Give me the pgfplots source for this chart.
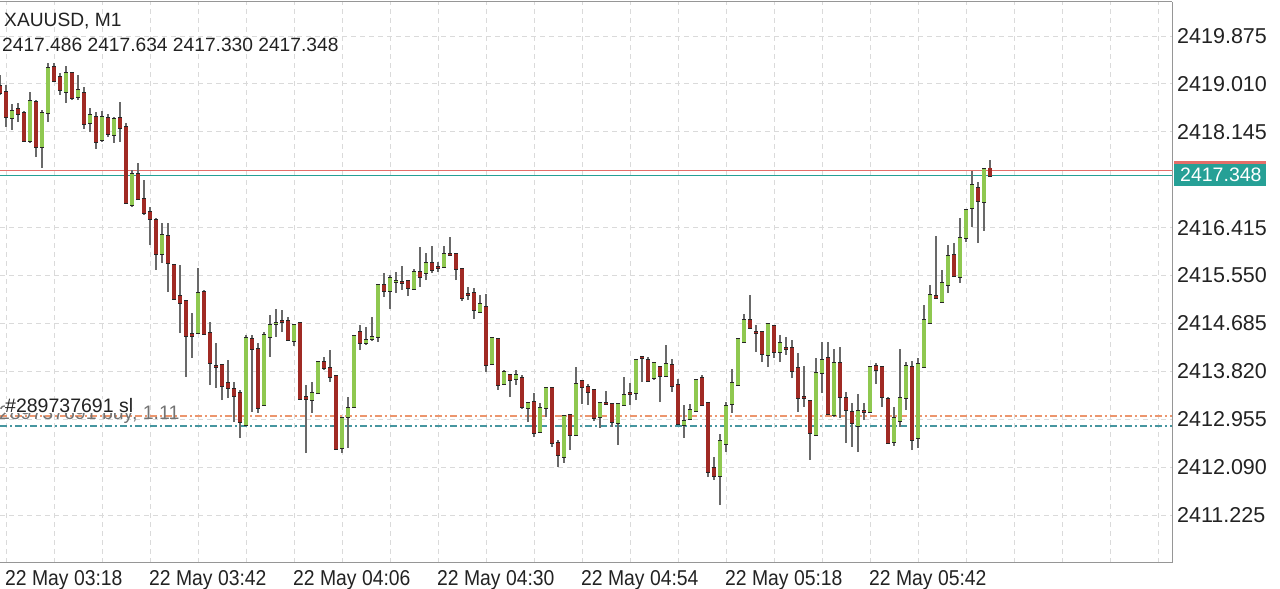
\documentclass[border=0pt]{standalone}
\usepackage{fontspec}
\setmainfont{Liberation Sans}
\newfontfamily\narrow[FakeStretch=0.9]{Liberation Sans}
\usepackage{pgfplots}
\usepackage{pgfplotstable}
\pgfplotsset{compat=1.18}

\definecolor{redc}{RGB}{160,42,36}
\definecolor{greenc}{RGB}{143,200,80}
\definecolor{wickc}{RGB}{105,105,105}
\definecolor{gridc}{RGB}{218,218,218}
\definecolor{axisc}{RGB}{150,150,150}
\definecolor{labc}{RGB}{34,34,34}
\definecolor{tealc}{RGB}{38,160,150}
\definecolor{askc}{RGB}{228,110,105}
\definecolor{slc}{RGB}{236,150,110}
\definecolor{buyc}{RGB}{70,150,160}

% XAUUSD M1, x = minutes after 22 May 03:18
\pgfplotstableread{
x o h l c
-1 2418.972 2419.171 2418.810 2418.846
0 2418.864 2418.990 2418.232 2418.412
2 2418.557 2418.665 2418.322 2418.466
3 2418.485 2418.521 2417.961 2417.979
5 2418.683 2418.719 2417.690 2417.871
8 2419.315 2419.387 2419.044 2419.062
9 2419.135 2419.207 2418.810 2418.900
11 2419.207 2419.225 2418.719 2418.755
13 2418.846 2418.954 2418.196 2418.286
15 2418.412 2418.503 2417.835 2417.961
17 2418.394 2418.466 2418.051 2418.105
19 2418.394 2418.683 2417.961 2418.214
20 2418.232 2418.304 2416.841 2416.859
22 2417.383 2417.582 2416.914 2416.932
23 2416.932 2417.275 2416.643 2416.679
24 2416.697 2416.787 2416.101 2416.571
25 2416.552 2416.589 2415.650 2415.938
27 2416.264 2416.498 2415.252 2415.776
28 2415.740 2415.758 2415.108 2415.126
29 2415.180 2415.740 2414.512 2415.054
30 2415.090 2415.108 2413.718 2414.458
31 2414.494 2414.873 2414.061 2414.458
33 2415.252 2415.289 2414.476 2414.494
34 2414.512 2414.711 2413.573 2413.970
35 2413.916 2414.331 2413.519 2413.898
36 2413.934 2413.952 2413.302 2413.555
37 2413.609 2414.025 2413.338 2413.519
38 2413.501 2413.627 2412.905 2413.374
39 2413.429 2413.483 2412.616 2412.905
41 2414.404 2414.476 2413.086 2414.223
42 2414.223 2414.331 2413.068 2413.158
46 2414.729 2414.927 2414.530 2414.711
47 2414.729 2414.801 2414.368 2414.386
49 2414.693 2414.711 2413.302 2413.320
50 2413.356 2413.573 2412.345 2413.320
53 2413.988 2414.079 2413.844 2413.880
54 2413.880 2414.205 2413.627 2413.718
55 2413.736 2413.754 2412.399 2412.417
59 2414.530 2414.657 2414.205 2414.331
63 2415.379 2415.595 2415.162 2415.270
66 2415.433 2415.722 2415.289 2415.415
67 2415.451 2415.469 2415.180 2415.325
69 2415.614 2416.065 2415.343 2415.523
71 2415.776 2416.083 2415.595 2415.650
72 2415.704 2415.794 2415.614 2415.686
74 2415.938 2416.245 2415.902 2415.920
75 2415.938 2415.957 2415.469 2415.668
76 2415.668 2415.686 2415.090 2415.144
77 2415.216 2415.343 2415.108 2415.198
78 2415.234 2415.325 2414.765 2414.927
80 2414.982 2415.216 2413.808 2413.934
82 2414.404 2414.422 2413.483 2413.573
84 2413.754 2413.772 2413.356 2413.663
86 2413.699 2413.754 2413.140 2413.176
88 2413.266 2413.429 2412.634 2412.706
91 2413.519 2413.537 2412.454 2412.526
92 2412.526 2412.580 2412.092 2412.309
94 2413.031 2413.049 2412.399 2412.670
96 2413.645 2413.663 2413.230 2413.537
97 2413.537 2413.591 2413.212 2413.447
98 2413.483 2413.501 2412.923 2412.977
100 2413.248 2413.465 2413.212 2413.230
101 2413.230 2413.248 2412.815 2412.905
104 2413.429 2413.609 2413.212 2413.411
106 2414.079 2414.097 2413.627 2414.061
107 2414.025 2414.079 2413.627 2413.645
109 2413.898 2413.916 2413.266 2413.736
111 2413.934 2414.043 2413.447 2413.555
112 2413.573 2413.681 2412.851 2412.869
116 2413.699 2413.754 2413.194 2413.212
117 2413.248 2413.266 2411.912 2412.002
118 2412.074 2412.273 2411.858 2411.930
124 2414.747 2415.198 2414.584 2414.602
125 2414.530 2414.657 2414.169 2414.512
126 2414.530 2414.548 2413.988 2414.133
128 2414.638 2414.657 2414.061 2414.169
130 2414.241 2414.440 2414.115 2414.223
131 2414.241 2414.386 2413.699 2413.826
132 2413.880 2414.151 2413.086 2413.338
133 2413.356 2413.916 2413.176 2413.338
134 2413.284 2413.302 2412.219 2412.706
137 2414.061 2414.349 2413.031 2413.049
139 2413.970 2414.259 2412.977 2413.356
140 2413.338 2413.447 2412.526 2413.122
141 2413.086 2413.248 2412.454 2412.887
143 2413.104 2413.248 2412.941 2413.086
145 2413.916 2413.970 2413.591 2413.844
146 2413.898 2413.916 2413.176 2413.356
147 2413.320 2413.356 2412.508 2412.526
151 2413.898 2414.006 2412.399 2412.580
155 2415.180 2416.264 2415.126 2415.144
158 2415.920 2416.137 2415.523 2415.541
162 2417.130 2417.239 2416.137 2416.896
164 2417.486 2417.634 2417.330 2417.348
}\bear

\pgfplotstableread{
x o h l c
1 2418.394 2418.647 2418.178 2418.521
4 2417.979 2418.864 2417.943 2418.701
6 2417.871 2418.539 2417.491 2418.485
7 2418.485 2419.387 2418.322 2419.297
10 2418.864 2419.333 2418.665 2419.207
12 2418.773 2419.171 2418.719 2418.900
14 2418.304 2418.575 2418.141 2418.448
16 2417.997 2418.521 2417.961 2418.412
18 2418.087 2418.412 2417.943 2418.376
21 2416.823 2417.455 2416.787 2417.383
26 2415.938 2416.498 2415.776 2416.282
32 2414.512 2415.686 2414.494 2415.234
40 2412.851 2414.476 2412.833 2414.422
43 2413.212 2414.530 2413.194 2414.476
44 2414.440 2414.837 2414.079 2414.657
45 2414.675 2414.945 2414.440 2414.693
48 2414.368 2414.675 2414.277 2414.657
51 2413.302 2413.627 2413.068 2413.429
52 2413.429 2414.006 2413.411 2413.988
56 2412.436 2412.995 2412.345 2412.977
57 2412.995 2413.356 2412.436 2413.158
58 2413.176 2414.476 2413.158 2414.458
60 2414.331 2414.620 2414.295 2414.386
61 2414.404 2414.801 2414.368 2414.440
62 2414.440 2415.397 2414.349 2415.379
64 2415.270 2415.559 2414.945 2415.505
65 2415.433 2415.614 2415.234 2415.451
68 2415.307 2415.668 2415.289 2415.614
70 2415.595 2415.957 2415.469 2415.776
73 2415.704 2416.083 2415.686 2415.938
79 2414.891 2415.198 2414.873 2415.036
81 2413.952 2414.440 2413.934 2414.422
83 2413.591 2413.844 2413.573 2413.808
85 2413.681 2413.844 2413.573 2413.754
87 2413.158 2413.266 2412.905 2413.248
89 2412.724 2413.248 2412.706 2413.158
90 2413.158 2413.537 2412.995 2413.519
93 2412.273 2413.031 2412.165 2413.013
95 2412.670 2413.898 2412.652 2413.591
99 2412.995 2413.266 2412.797 2413.248
102 2412.887 2413.248 2412.490 2413.230
103 2413.212 2413.718 2413.194 2413.392
105 2413.429 2414.043 2413.302 2414.025
108 2413.699 2413.988 2413.663 2413.970
110 2413.736 2414.295 2413.718 2413.952
113 2412.851 2413.212 2412.616 2412.923
114 2412.959 2413.230 2412.941 2413.122
115 2413.104 2413.681 2413.086 2413.663
119 2411.930 2412.688 2411.406 2412.562
120 2412.508 2413.266 2412.363 2413.194
121 2413.230 2413.862 2413.068 2413.609
122 2413.573 2414.422 2413.555 2414.404
123 2414.349 2414.855 2414.331 2414.747
127 2414.115 2414.693 2413.898 2414.675
129 2414.169 2414.476 2413.988 2414.331
135 2412.670 2414.061 2412.652 2413.790
136 2413.790 2414.349 2413.429 2414.025
138 2413.031 2414.223 2412.995 2413.970
142 2412.833 2413.411 2412.363 2413.104
144 2413.086 2413.916 2413.068 2413.898
148 2412.544 2413.176 2412.472 2412.977
149 2412.923 2414.223 2412.815 2413.338
150 2413.338 2413.988 2413.122 2413.916
152 2412.616 2414.061 2412.436 2413.952
153 2413.898 2415.018 2413.880 2414.747
154 2414.693 2415.379 2414.675 2415.198
156 2415.072 2415.650 2415.054 2415.415
157 2415.379 2416.101 2415.234 2415.902
159 2415.523 2416.589 2415.415 2416.227
160 2416.227 2416.751 2416.155 2416.733
161 2416.769 2417.437 2416.426 2417.184
163 2416.877 2417.491 2416.354 2417.473
}\bull

\begin{document}
\begin{tikzpicture}
\begin{axis}[
  at={(0pt,0pt)}, anchor=south west,
  scale only axis, width=1172pt, height=561pt,
  xmin=-1, xmax=194.333, ymin=2410.359, ymax=2420.489,
  axis x line=box, axis y line*=right,
  axis line style={draw=axisc, line width=1pt, -},
  yticklabel pos=right,
  xtick={0,24,48,72,96,120,144},
  minor xtick={0,8,...,192},
  xticklabels={22 May 03:18,22 May 03:42,22 May 04:06,22 May 04:30,22 May 04:54,22 May 05:18,22 May 05:42},
  ytick={2411.225,2412.090,2412.955,2413.820,2414.685,2415.550,2416.415,2418.145,2419.010,2419.875},
  yticklabels={2411.225,2412.090,2412.955,2413.820,2414.685,2415.550,2416.415,2418.145,2419.010,2419.875},
  major tick length=0pt, minor tick length=0pt,
  grid=both,
  major grid style={draw=gridc, line width=0.9pt, dash pattern=on 5pt off 4pt},
  minor grid style={draw=gridc, line width=0.9pt, dash pattern=on 5pt off 4pt},
  xticklabel style={font=\narrow\fontsize{21.5}{24}\selectfont, text=labc, anchor=north west, inner sep=0pt, yshift=-7pt, xshift=-1pt},
  yticklabel style={font=\fontsize{21.5}{24}\selectfont, text=labc, anchor=west, inner sep=0pt, xshift=5pt},
  candle/.style={draw=none, mark=none, error bars/y dir=plus, error bars/y explicit, error bars/error mark=none},
]
% ask / bid and order levels
\addplot[askc, line width=1.1pt] coordinates {(-1,2417.440) (194.333,2417.440)};
\addplot[tealc, line width=1.1pt] coordinates {(-1,2417.348) (194.333,2417.348)};
\addplot[slc, line width=1.1pt, dash pattern=on 7pt off 3pt on 2pt off 3pt] coordinates {(-1,2413.013) (194.333,2413.013)};
\addplot[buyc, line width=1.1pt, dash pattern=on 7pt off 3pt on 2pt off 3pt] coordinates {(-1,2412.833) (194.333,2412.833)};

% wicks
\addplot[candle, error bars/error bar style={draw=wickc, line width=1.2pt}]
  table[x=x, y=l, y error plus expr=\thisrow{h}-\thisrow{l}] {\bear};
\addplot[candle, error bars/error bar style={draw=wickc, line width=1.2pt}]
  table[x=x, y=l, y error plus expr=\thisrow{h}-\thisrow{l}] {\bull};

% bodies: dark outline then fill
\addplot[candle, error bars/error bar style={draw=black!85, line width=4.6pt, shorten <=-0.7pt, shorten >=-0.7pt}]
  table[x=x, y=c, y error plus expr=\thisrow{o}-\thisrow{c}] {\bear};
\addplot[candle, error bars/error bar style={draw=redc, line width=3.2pt}]
  table[x=x, y=c, y error plus expr=\thisrow{o}-\thisrow{c}] {\bear};
\addplot[candle, error bars/error bar style={draw=black!85, line width=4.6pt, shorten <=-0.7pt, shorten >=-0.7pt}]
  table[x=x, y=o, y error plus expr=\thisrow{c}-\thisrow{o}] {\bull};
\addplot[candle, error bars/error bar style={draw=greenc, line width=3.2pt}]
  table[x=x, y=o, y error plus expr=\thisrow{c}-\thisrow{o}] {\bull};
\end{axis}

% current price tag
\fill[tealc] (1174pt,377pt) rectangle (1266pt,399pt);
\fill[askc] (1174pt,399pt) rectangle (1266pt,402pt);
\node[anchor=west, inner sep=0pt, text=white, font=\fontsize{19.5}{22}\selectfont] at (1180pt,388pt) {2417.348};

% header
\node[anchor=base west, inner sep=0pt, text=labc, font=\fontsize{19.2}{22}\selectfont] at (4pt,536pt) {XAUUSD, M1};
\node[anchor=base west, inner sep=0pt, text=labc, font=\fontsize{19.2}{22}\selectfont] at (2pt,511pt) {2417.486 2417.634 2417.330 2417.348};

% order labels
\node[anchor=base west, inner sep=0pt, text=black!55, font=\fontsize{19.5}{22}\selectfont] at (-12pt,143pt) {\#289737691 buy, 1.11};
\node[anchor=base west, inner sep=0pt, fill=white, text=labc, font=\fontsize{19.5}{22}\selectfont] at (5pt,150pt) {\#289737691 sl};

\pgfresetboundingbox
\useasboundingbox (0pt,-26pt) rectangle (1280pt,563pt);
\end{tikzpicture}
\end{document}
